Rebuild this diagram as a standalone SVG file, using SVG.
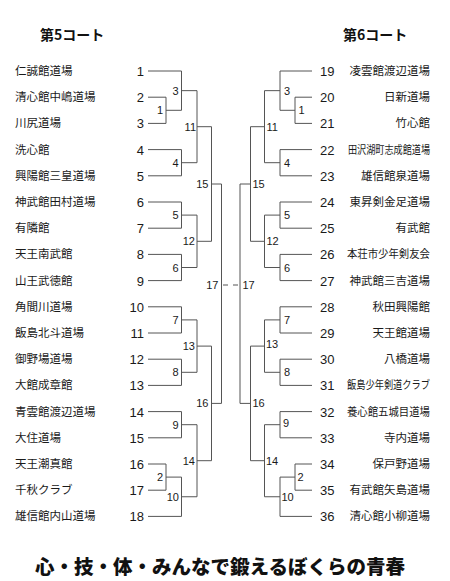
<svg xmlns="http://www.w3.org/2000/svg" width="450" height="581" viewBox="0 0 450 581">
<style>
.bg{fill:#fff}
.nm{font-family:"Noto Sans CJK JP","Noto Sans",sans-serif;font-size:11.5px;fill:#1a1a1a}
.nr{text-anchor:end}
.num{font-family:"Liberation Sans",Arial,sans-serif;font-size:13px;fill:#1a1a1a}
.numL{text-anchor:end}
.lb{font-family:"Liberation Sans",Arial,sans-serif;font-size:11px;fill:#1a1a1a}
.lbL{text-anchor:end}
.hd{font-family:"Noto Sans CJK JP","Noto Sans",sans-serif;font-size:14px;font-weight:bold;fill:#111}
.ttl{font-family:"Noto Sans CJK JP","Noto Sans",sans-serif;font-size:19.5px;font-weight:900;fill:#111}
.ln{fill:none;stroke:#555;stroke-width:1}
.dash{stroke-dasharray:5,5}
</style>
<rect class="bg" x="0" y="0" width="450" height="581"/>
<g id="headers">
<text class="hd" x="40" y="40">第5コート</text>
<text class="hd" x="343" y="40">第6コート</text>
</g>
<g id="connectors">
<path class="ln" d="M148,71H181.5 M148,97.2H166 M148,123.4H166 M148,149.6H181.5 M148,175.8H181.5 M148,202H181.5 M148,228.2H181.5 M148,254.4H181.5 M148,280.6H181.5 M148,306.8H181.5 M148,333H181.5 M148,359.2H181.5 M148,385.4H181.5 M148,411.6H181.5 M148,437.8H181.5 M148,464H166 M148,490.2H166 M148,516.4H181.5"/>
<path class="ln" d="M166,97.2V123.4 M166,110.3H181.5 M181.5,71V110.3 M181.5,90.65H197 M181.5,149.6V175.8 M181.5,162.7H197 M197,90.65V162.7 M197,126.7H211.5 M181.5,202V228.2 M181.5,215.1H197 M181.5,254.4V280.6 M181.5,267.5H197 M197,215.1V267.5 M197,241.3H211.5 M211.5,126.7V241.3 M211.5,184H221.5 M181.5,306.8V333 M181.5,319.9H197 M181.5,359.2V385.4 M181.5,372.3H197 M197,319.9V372.3 M197,346.1H211.5 M181.5,411.6V437.8 M181.5,424.7H197 M166,464V490.2 M166,477.1H181.5 M181.5,477.1V516.4 M181.5,496.75H197 M197,424.7V496.75 M197,460.7H211.5 M211.5,346.1V460.7 M211.5,403.4H221.5 M221.5,184V403.4"/>
<path class="ln" d="M312,71H280 M312,97.2H295 M312,123.4H295 M312,149.6H280 M312,175.8H280 M312,202H280 M312,228.2H280 M312,254.4H280 M312,280.6H280 M312,306.8H280 M312,333H280 M312,359.2H280 M312,385.4H280 M312,411.6H280 M312,437.8H280 M312,464H295 M312,490.2H295 M312,516.4H280"/>
<path class="ln" d="M295,97.2V123.4 M295,110.3H280 M280,71V110.3 M280,90.65H264.5 M280,149.6V175.8 M280,162.7H264.5 M264.5,90.65V162.7 M264.5,126.7H250.5 M280,202V228.2 M280,215.1H264.5 M280,254.4V280.6 M280,267.5H264.5 M264.5,215.1V267.5 M264.5,241.3H250.5 M250.5,126.7V241.3 M250.5,184H240 M280,306.8V333 M280,319.9H264.5 M280,359.2V385.4 M280,372.3H264.5 M264.5,319.9V372.3 M264.5,346.1H250.5 M280,411.6V437.8 M280,424.7H264.5 M295,464V490.2 M295,477.1H280 M280,477.1V516.4 M280,496.75H264.5 M264.5,424.7V496.75 M264.5,460.7H250.5 M250.5,346.1V460.7 M250.5,403.4H240 M240,184V403.4"/>
<path class="ln dash" d="M223,285H240"/>
</g>
<g id="left-teams">
<text class="nm" x="15" y="75">仁誠館道場</text><text class="num numL" x="144" y="76">1</text>
<text class="nm" x="15" y="101.2">清心館中嶋道場</text><text class="num numL" x="144" y="102.2">2</text>
<text class="nm" x="15" y="127.4">川尻道場</text><text class="num numL" x="144" y="128.4">3</text>
<text class="nm" x="15" y="153.6">洗心館</text><text class="num numL" x="144" y="154.6">4</text>
<text class="nm" x="15" y="179.8">興陽館三皇道場</text><text class="num numL" x="144" y="180.8">5</text>
<text class="nm" x="15" y="206">神武館田村道場</text><text class="num numL" x="144" y="207">6</text>
<text class="nm" x="15" y="232.2">有隣館</text><text class="num numL" x="144" y="233.2">7</text>
<text class="nm" x="15" y="258.4">天王南武館</text><text class="num numL" x="144" y="259.4">8</text>
<text class="nm" x="15" y="284.6">山王武徳館</text><text class="num numL" x="144" y="285.6">9</text>
<text class="nm" x="15" y="310.8">角間川道場</text><text class="num numL" x="144" y="311.8">10</text>
<text class="nm" x="15" y="337">飯島北斗道場</text><text class="num numL" x="144" y="338">11</text>
<text class="nm" x="15" y="363.2">御野場道場</text><text class="num numL" x="144" y="364.2">12</text>
<text class="nm" x="15" y="389.4">大館成章館</text><text class="num numL" x="144" y="390.4">13</text>
<text class="nm" x="15" y="415.6">青雲館渡辺道場</text><text class="num numL" x="144" y="416.6">14</text>
<text class="nm" x="15" y="441.8">大住道場</text><text class="num numL" x="144" y="442.8">15</text>
<text class="nm" x="15" y="468">天王潮真館</text><text class="num numL" x="144" y="469">16</text>
<text class="nm" x="15" y="494.2">千秋クラブ</text><text class="num numL" x="144" y="495.2">17</text>
<text class="nm" x="15" y="520.4">雄信館内山道場</text><text class="num numL" x="144" y="521.4">18</text>
</g>
<g id="right-teams">
<text class="num" x="320" y="76">19</text><text class="nm nr" x="430" y="75">凌雲館渡辺道場</text>
<text class="num" x="320" y="102.2">20</text><text class="nm nr" x="430" y="101.2">日新道場</text>
<text class="num" x="320" y="128.4">21</text><text class="nm nr" x="430" y="127.4">竹心館</text>
<text class="num" x="320" y="154.6">22</text><text class="nm nr" x="430" y="153.6" textLength="82" lengthAdjust="spacingAndGlyphs">田沢湖町志成館道場</text>
<text class="num" x="320" y="180.8">23</text><text class="nm nr" x="430" y="179.8">雄信館泉道場</text>
<text class="num" x="320" y="207">24</text><text class="nm nr" x="430" y="206">東昇剣金足道場</text>
<text class="num" x="320" y="233.2">25</text><text class="nm nr" x="430" y="232.2">有武館</text>
<text class="num" x="320" y="259.4">26</text><text class="nm nr" x="430" y="258.4" textLength="83" lengthAdjust="spacingAndGlyphs">本荘市少年剣友会</text>
<text class="num" x="320" y="285.6">27</text><text class="nm nr" x="430" y="284.6">神武館三吉道場</text>
<text class="num" x="320" y="311.8">28</text><text class="nm nr" x="430" y="310.8">秋田興陽館</text>
<text class="num" x="320" y="338">29</text><text class="nm nr" x="430" y="337">天王館道場</text>
<text class="num" x="320" y="364.2">30</text><text class="nm nr" x="430" y="363.2">八橋道場</text>
<text class="num" x="320" y="390.4">31</text><text class="nm nr" x="430" y="389.4" textLength="83" lengthAdjust="spacingAndGlyphs">飯島少年剣道クラブ</text>
<text class="num" x="320" y="416.6">32</text><text class="nm nr" x="430" y="415.6" textLength="83" lengthAdjust="spacingAndGlyphs">養心館五城目道場</text>
<text class="num" x="320" y="442.8">33</text><text class="nm nr" x="430" y="441.8">寺内道場</text>
<text class="num" x="320" y="469">34</text><text class="nm nr" x="430" y="468">保戸野道場</text>
<text class="num" x="320" y="495.2">35</text><text class="nm nr" x="430" y="494.2">有武館矢島道場</text>
<text class="num" x="320" y="521.4">36</text><text class="nm nr" x="430" y="520.4">清心館小柳道場</text>
</g>
<g id="left-match-labels">
<text class="lb lbL" x="163" y="114.3">1</text>
<text class="lb lbL" x="163" y="481.1">2</text>
<text class="lb lbL" x="178.5" y="94.65">3</text>
<text class="lb lbL" x="178.5" y="166.7">4</text>
<text class="lb lbL" x="178.5" y="219.1">5</text>
<text class="lb lbL" x="178.5" y="271.5">6</text>
<text class="lb lbL" x="178.5" y="323.9">7</text>
<text class="lb lbL" x="178.5" y="376.3">8</text>
<text class="lb lbL" x="178.5" y="428.7">9</text>
<text class="lb lbL" x="179" y="500.75">10</text>
<text class="lb lbL" x="196" y="130.7">11</text>
<text class="lb lbL" x="195" y="245.3">12</text>
<text class="lb lbL" x="195" y="350.1">13</text>
<text class="lb lbL" x="195" y="464.7">14</text>
<text class="lb lbL" x="208.5" y="188">15</text>
<text class="lb lbL" x="208.5" y="407.4">16</text>
<text class="lb lbL" x="218.5" y="289">17</text>
</g>
<g id="right-match-labels">
<text class="lb" x="298.5" y="114.3">1</text>
<text class="lb" x="297.5" y="481.1">2</text>
<text class="lb" x="284" y="94.65">3</text>
<text class="lb" x="284" y="166.7">4</text>
<text class="lb" x="284" y="219.1">5</text>
<text class="lb" x="284" y="271.5">6</text>
<text class="lb" x="284" y="323.9">7</text>
<text class="lb" x="284" y="376.3">8</text>
<text class="lb" x="283" y="426.7">9</text>
<text class="lb" x="281.5" y="500.75">10</text>
<text class="lb" x="266.5" y="130.7">11</text>
<text class="lb" x="266.5" y="245.3">12</text>
<text class="lb" x="266" y="348.1">13</text>
<text class="lb" x="266" y="464.7">14</text>
<text class="lb" x="252.5" y="188">15</text>
<text class="lb" x="252.5" y="407.4">16</text>
<text class="lb" x="242.5" y="289">17</text>
</g>
<g id="title">
<text class="ttl" x="35" y="574">心・技・体・みんなで鍛えるぼくらの青春</text>
</g>
</svg>
